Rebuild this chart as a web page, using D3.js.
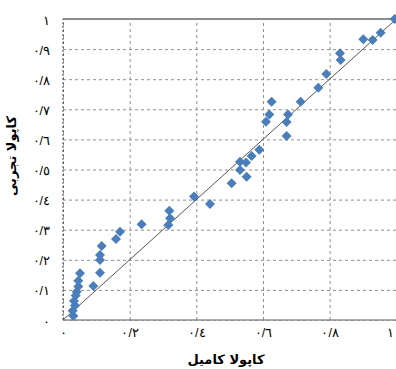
<!DOCTYPE html>
<html><head><meta charset="utf-8">
<script src="https://cdn.jsdelivr.net/npm/d3@7"></script>
<style>body{margin:0;background:#fff}svg{display:block}</style>
</head><body>
<script>
const xTicks = [0, 0.2, 0.4, 0.6, 0.8, 1];
const yTicks = [0, 0.1, 0.2, 0.3, 0.4, 0.5, 0.6, 0.7, 0.8, 0.9, 1];
const xValues = [0.031,0.029,0.036,0.033,0.038,0.041,0.046,0.046,0.051,0.091,0.111,0.111,0.111,0.116,0.159,0.171,0.236,0.316,0.321,0.319,0.393,0.441,0.506,0.531,0.551,0.531,0.549,0.566,0.589,0.609,0.619,0.626,0.671,0.671,0.675,0.713,0.766,0.790,0.831,0.833,0.901,0.929,0.953,0.995];
const yValues = [0.013,0.031,0.048,0.063,0.081,0.094,0.111,0.130,0.155,0.113,0.157,0.199,0.216,0.246,0.269,0.293,0.318,0.316,0.338,0.363,0.410,0.385,0.454,0.498,0.476,0.526,0.523,0.545,0.566,0.659,0.683,0.725,0.611,0.658,0.683,0.725,0.772,0.817,0.886,0.864,0.933,0.930,0.954,1.0];
const xTitle = "کاپولا کامیل";
const yTitle = "کاپولا تجربی";

const W = 396, H = 369;
const L = 63, R = 396.3, T = 19, B = 320;
const digits = "٠١٢٣٤٥٦٧٨٩";
const fmt = v => {
  const s = d3.format(".1~f")(v);
  return s.replace(/\d/g, c => digits[+c]).replace(".", "/");
};

const svg = d3.select("body").append("svg").attr("width", W).attr("height", H)
  .style("font-family", "'DejaVu Sans', sans-serif");

const x = d3.scaleLinear().domain([0, 1]).range([L, R]);
const y = d3.scaleLinear().domain([0, 1]).range([B, T]);

// gridlines + y labels
const gy = svg.append("g").attr("transform", `translate(${L},0)`)
  .call(d3.axisLeft(y).tickValues(yTicks).tickFormat(fmt).tickSize(-(R - L)).tickPadding(13));
gy.select(".domain").remove();
gy.selectAll(".tick line").attr("stroke", "#8f8f8f").attr("stroke-dasharray", "3,3").attr("stroke-width", 1);
gy.selectAll(".tick text").attr("font-size", 12.5).attr("fill", "#000").attr("dy", "0.4em");

const gx = svg.append("g").attr("transform", `translate(0,${B})`)
  .call(d3.axisBottom(x).tickValues(xTicks).tickFormat(fmt).tickSize(-(B - T)).tickPadding(8));
gx.select(".domain").remove();
gx.selectAll(".tick line").attr("stroke", "#8f8f8f").attr("stroke-dasharray", "3,3").attr("stroke-width", 1);
gx.selectAll(".tick text").attr("font-size", 12.5).attr("fill", "#000");
gx.selectAll(".tick text").filter(d => d === 1).attr("text-anchor", "end").attr("dx", "-3");

// frame lines
svg.append("line").attr("x1", L).attr("x2", R).attr("y1", y(1)).attr("y2", y(1))
  .attr("stroke", "#8c8c8c").attr("stroke-width", 2);
svg.append("line").attr("x1", L).attr("x2", R).attr("y1", y(0)).attr("y2", y(0))
  .attr("stroke", "#8c8c8c").attr("stroke-width", 1.5);
svg.append("line").attr("x1", x(0)).attr("x2", x(0)).attr("y1", y(0)).attr("y2", y(1))
  .attr("stroke", "#444").attr("stroke-dasharray", "2,2").attr("stroke-width", 1);

// diagonal
svg.append("line").attr("x1", x(0)).attr("y1", y(0)).attr("x2", x(1)).attr("y2", y(1))
  .attr("stroke", "#555").attr("stroke-width", 1);

// points
const pts = xValues.map((v, i) => [v, yValues[i]]);
svg.append("g").selectAll("path").data(pts).join("path")
  .attr("d", d => {
    const cx = x(d[0]), cy = y(d[1]), a = 5, b = 5;
    return `M${cx},${cy - b}L${cx + a},${cy}L${cx},${cy + b}L${cx - a},${cy}Z`;
  })
  .attr("fill", "#4a7ebb");

// titles
svg.append("text").attr("x", 226).attr("y", 364).attr("text-anchor", "middle")
  .attr("font-size", 13).attr("font-weight", "bold").text(xTitle);
svg.append("text").attr("transform", "translate(16,156) rotate(-90)").attr("text-anchor", "middle")
  .attr("font-size", 13).attr("font-weight", "bold").text(yTitle);
</script>
</body></html>
